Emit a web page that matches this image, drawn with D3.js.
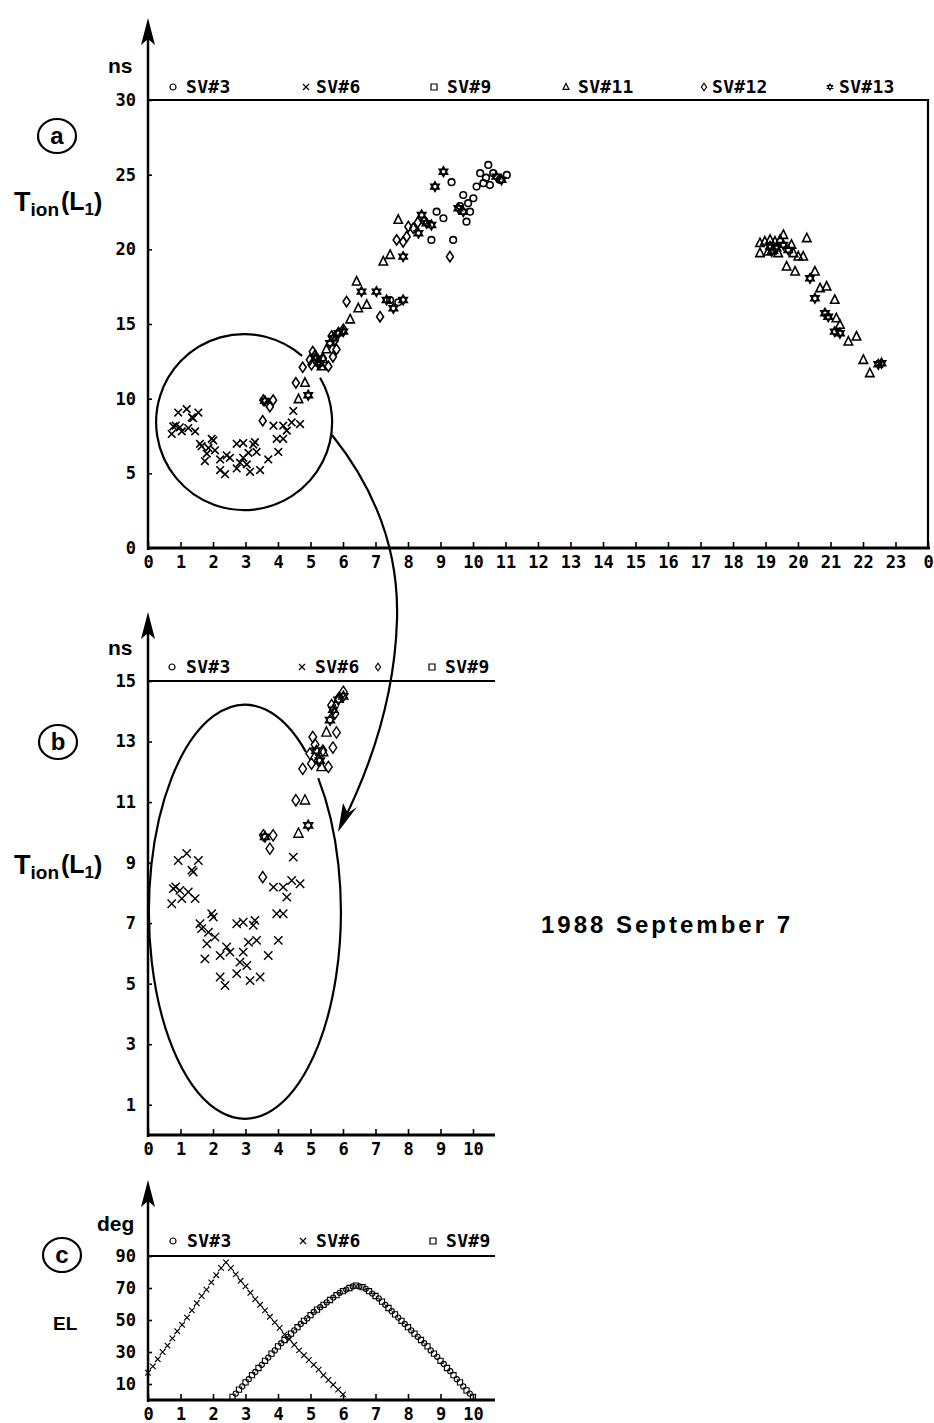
<!DOCTYPE html>
<html><head><meta charset="utf-8">
<script src="https://cdn.jsdelivr.net/npm/d3@7"></script>
<style>body{margin:0;background:#fff}svg{display:block}</style>
</head><body><script>
// ---------------- DATA ----------------
const legendA = ["SV#3","SV#6","SV#9","SV#11","SV#12","SV#13"];
const legendB = ["SV#3","SV#6","","SV#9"];
const legendC = ["SV#3","SV#6","SV#9"];
const xTicksA = [0,1,2,3,4,5,6,7,8,9,10,11,12,13,14,15,16,17,18,19,20,21,22,23,24];
const xLabelsA = ["0","1","2","3","4","5","6","7","8","9","10","11","12","13","14","15","16","17","18","19","20","21","22","23","0"];
const yTicksA = [0,5,10,15,20,25,30];
const xTicksBC = [0,1,2,3,4,5,6,7,8,9,10];
const yTicksB = [1,3,5,7,9,11,13,15];
const yTicksC = [10,30,50,70,90];

// T_ion(L1) in ns vs hour (UT), 1988 Sept 7
const sv3 = [[7.45,16.6],[7.7,16.45],[8.5,21.9],[8.72,20.63],[8.88,22.52],[9.09,22.08],[9.34,24.5],[9.39,20.63],[9.6,22.9],[9.7,23.64],[9.8,21.85],[9.85,23.09],[9.91,22.52],[10.01,23.42],[10.11,24.2],[10.22,25.1],[10.32,24.43],[10.4,24.8],[10.47,25.65],[10.52,24.3],[10.62,25.1],[10.83,24.65],[11.04,24.98]];
const sv6 = [[0.73,7.64],[0.78,8.14],[0.85,8.2],[0.98,8.08],[1.04,7.81],[1.24,8.03],[1.45,7.81],[0.93,9.07],[1.19,9.3],[1.55,9.07],[1.39,8.69],[1.35,8.75],
  [1.96,7.31],[2.01,7.2],[1.6,6.98],[1.65,6.82],[1.86,6.7],[2.06,6.54],[1.81,6.32],[1.75,5.82],
  [2.42,6.21],[2.52,6.04],[2.22,5.93],[2.93,6.04],[2.73,6.98],[2.93,7.03],[3.29,7.09],[3.24,6.93],
  [3.09,6.37],[3.34,6.43],[2.83,5.71],[3.04,5.6],[2.73,5.33],[2.22,5.22],[2.37,4.94],[3.14,5.1],[3.45,5.22],
  [3.7,5.93],[4.01,6.43],[3.96,7.31],[4.16,7.31],[4.27,7.86],[3.86,8.19],[4.16,8.19],[4.42,8.41],[4.68,8.3],[4.47,9.18]];
const sv9 = [];
const sv11 = [[4.63,9.96],[4.83,11.06],[5.34,12.16],[5.39,12.65],[5.49,13.3],[6.22,15.3],[6.42,17.84],[6.47,16.05],[6.73,16.28],[7.24,19.18],[7.45,19.62],[7.7,21.97],
  [18.83,20.41],[18.98,20.52],[19.14,20.63],[19.29,20.52],[19.45,20.63],[19.55,20.96],[18.83,19.74],[19.08,19.85],[19.24,19.96],[19.39,19.74],[19.8,20.3],[19.86,19.74],[20.01,19.51],[20.16,19.51],[20.27,20.74],
  [19.65,18.84],[19.91,18.51],[20.52,18.51],[20.68,17.39],[20.88,17.5],[21.13,16.61],[21.18,15.38],[21.29,14.94],[21.55,13.82],[21.8,14.15],[22.01,12.59],[22.21,11.7]];
const sv12 = [[3.53,8.52],[3.55,9.9],[3.75,9.46],[3.85,9.9],[4.55,11.06],[4.76,12.1],[4.98,12.6],[5.03,12.27],[5.07,13.15],[5.14,12.9],[5.24,12.38],[5.38,12.7],[5.55,12.16],[5.69,12.8],[5.65,14.2],[5.75,13.92],[5.8,13.3],[5.86,14.42],[6.01,14.64],
  [6.11,16.5],[7.14,15.49],[7.65,20.63],[7.85,20.5],[7.96,20.85],[8.01,21.52],[8.16,21.41],[8.3,21.8],[9.29,19.51]];
const sv13 = [[3.6,9.85],[4.93,10.23],[5.18,12.7],[5.29,12.37],[5.6,13.71],[5.7,14.05],[5.86,14.38],[6.01,14.49],[6.57,17.17],[7.03,17.17],[7.34,16.61],[7.55,16.05],[7.85,16.61],[7.85,19.51],
  [8.32,21.08],[8.42,22.3],[8.57,21.75],[8.72,21.63],[8.83,24.2],[9.09,25.2],[9.55,22.75],[9.7,22.52],[10.72,24.87],[10.88,24.65],
  [19.14,20.19],[19.34,20.07],[19.19,19.85],[19.55,20.3],[19.7,19.96],[20.37,18.06],[20.52,16.72],[20.83,15.72],[20.93,15.49],[21.13,14.49],[21.29,14.38],[22.47,12.3],[22.57,12.37]];

// Elevation (deg) vs hour
const el6 = [[0,17],[0.15,21],[0.3,25.5],[0.45,30],[0.6,34],[0.75,38.5],[0.9,43],[1.05,47],[1.2,51.5],[1.35,56],[1.5,60.5],[1.65,65],[1.8,69],[1.95,73.5],[2.1,78],[2.25,82.5],[2.4,86],
  [2.55,82.5],[2.7,78.5],[2.85,74.5],[3.0,71],[3.15,67],[3.3,63],[3.45,59.5],[3.6,56],[3.75,52],[3.9,48.5],[4.05,45],[4.2,41],[4.35,38],[4.5,34.5],[4.65,31],[4.8,28],[4.95,25],[5.1,22],[5.25,19],[5.4,15.5],[5.55,12.5],[5.7,9.5],[5.85,6.5],[6.0,3.5]];
const el9 = [[2.6,2],[2.8,6.5],[3.0,11],[3.2,15.5],[3.4,20],[3.6,24.5],[3.8,29],[4.0,33.5],[4.2,37.5],[4.4,41.5],[4.6,45.5],[4.8,49.5],[5.0,53],[5.2,56.5],[5.4,59.5],[5.6,62.5],[5.8,65.5],[6.0,68],[6.2,70],[6.4,71.5],
  [6.6,70.5],[6.8,68],[7.0,65],[7.2,61.5],[7.4,57.5],[7.6,53.5],[7.8,49.5],[8.0,45.5],[8.2,41.5],[8.4,37.5],[8.6,33.5],[8.8,29],[9.0,24.5],[9.2,20],[9.4,15.5],[9.6,11],[9.8,6],[10.0,2]];
const el3 = [[2.7,4],[2.9,8.5],[3.1,13],[3.3,17.5],[3.5,22],[3.7,26.5],[3.9,31],[4.1,35.5],[4.3,39.5],[4.5,43.5],[4.7,47.5],[4.9,51],[5.1,55],[5.3,58],[5.5,61],[5.7,64],[5.9,67],[6.1,69],[6.3,71],
  [6.5,71],[6.7,69.5],[6.9,66.5],[7.1,63.5],[7.3,59.5],[7.5,55.5],[7.7,51.5],[7.9,47.5],[8.1,43.5],[8.3,39.5],[8.5,35.5],[8.7,31],[8.9,27],[9.1,22.5],[9.3,18],[9.5,13],[9.7,8.5],[9.9,4]];

// ---------------- DRAWING ----------------
const W = 934, H = 1423;
const MONO = "'DejaVu Sans Mono', monospace";
const SANS = "'Liberation Sans', Arial, sans-serif";
const svg = d3.select("body").append("svg").attr("width", W).attr("height", H);

const shapes = {
  circle: s => `M${s},0A${s},${s} 0 1,1 ${-s},0A${s},${s} 0 1,1 ${s},0Z`,
  cross: s => `M${-s},${-s}L${s},${s}M${-s},${s}L${s},${-s}`,
  square: s => `M${-s},${-s}H${s}V${s}H${-s}Z`,
  triangle: s => `M0,${-s*1.2}L${s},${s*0.8}L${-s},${s*0.8}Z`,
  diamond: s => `M0,${-s*1.25}L${s*0.85},0L0,${s*1.25}L${-s*0.85},0Z`,
  star: s => { const a = s*0.866; return `M0,${-s}L${a},${s/2}L${-a},${s/2}ZM0,${s}L${a},${-s/2}L${-a},${-s/2}Z`; }
};
const sizes = {circle:3.3, cross:3.8, square:3, triangle:4.2, diamond:4.1, star:4.8};

const seriesAB = [
  {data: sv3, shape: "circle"},
  {data: sv6, shape: "cross"},
  {data: sv9, shape: "square"},
  {data: sv11, shape: "triangle"},
  {data: sv12, shape: "diamond"},
  {data: sv13, shape: "star"}
];

function drawMarkers(g, data, shape, x, y, size, sw) {
  g.selectAll(null).data(data).enter().append("path")
    .attr("transform", d => `translate(${x(d[0])},${y(d[1])})`)
    .attr("d", shapes[shape](size))
    .attr("fill", "none").attr("stroke", "#000").attr("stroke-width", sw);
}

function yArrow(x0, yBottom, tip) {
  svg.append("line").attr("x1", x0).attr("x2", x0).attr("y1", yBottom + 2).attr("y2", tip + 10)
    .attr("stroke", "#000").attr("stroke-width", 2.5);
  svg.append("path").attr("d", `M${x0},${tip}L${x0+7},${tip+27}L${x0},${tip+21}L${x0-7},${tip+27}Z`).attr("fill", "#000");
}

function xAxis(x, yPos, ticks, fmt, xEnd) {
  const g = svg.append("g").attr("transform", `translate(0,${yPos})`)
    .call(d3.axisBottom(x).tickValues(ticks).tickSize(-6).tickPadding(8).tickFormat(fmt));
  g.select(".domain").remove();
  g.selectAll(".tick line").attr("stroke", "#000").attr("stroke-width", 1.6);
  g.selectAll("text").attr("font-family", MONO).attr("font-weight", "bold").attr("font-size", 17).attr("fill", "#000");
  svg.append("line").attr("x1", x.range()[0] - 1).attr("x2", xEnd).attr("y1", yPos).attr("y2", yPos)
    .attr("stroke", "#000").attr("stroke-width", 3);
}

function yAxis(y, xPos, ticks) {
  const g = svg.append("g").attr("transform", `translate(${xPos},0)`)
    .call(d3.axisLeft(y).tickValues(ticks).tickSize(-4).tickPadding(12));
  g.select(".domain").remove();
  g.selectAll(".tick line").attr("stroke", "#000").attr("stroke-width", 1.6);
  g.selectAll("text").attr("font-family", MONO).attr("font-weight", "bold").attr("font-size", 17).attr("fill", "#000");
}

function legend(items, shapesL, markX, textX, yBase) {
  items.forEach((t, i) => {
    if (shapesL[i]) svg.append("path").attr("transform", `translate(${markX[i]},${yBase-6})`)
      .attr("d", shapes[shapesL[i]](3)).attr("fill","none").attr("stroke","#000").attr("stroke-width",1.2);
    if (t) svg.append("text").attr("x", textX[i]).attr("y", yBase).text(t)
      .attr("font-family", MONO).attr("font-weight", "bold").attr("font-size", 18).attr("letter-spacing", 0.3);
  });
}

function circLabel(cx, cy, ch) {
  svg.append("ellipse").attr("cx", cx).attr("cy", cy).attr("rx", 19).attr("ry", 17)
    .attr("fill", "none").attr("stroke", "#000").attr("stroke-width", 2.2);
  svg.append("text").attr("x", cx).attr("y", cy + 8).attr("text-anchor", "middle").text(ch)
    .attr("font-family", SANS).attr("font-weight", "bold").attr("font-size", 24);
}

function tionLabel(x0, yb) {
  const t = svg.append("text").attr("x", x0).attr("y", yb).attr("font-family", SANS).attr("font-weight", "bold");
  t.append("tspan").attr("font-size", 27).text("T");
  t.append("tspan").attr("font-size", 19).attr("dy", 5).text("ion");
  t.append("tspan").attr("font-size", 25).attr("dy", -6).attr("dx", 2).text("(L");
  t.append("tspan").attr("font-size", 17).attr("dy", 5).text("1");
  t.append("tspan").attr("font-size", 25).attr("dy", -4).text(")");
}

function unitLabel(x0, yb, txt, fs) {
  svg.append("text").attr("x", x0).attr("y", yb).text(txt)
    .attr("font-family", SANS).attr("font-weight", "bold").attr("font-size", fs);
}

// ---------- Panel a ----------
const xA = d3.scaleLinear().domain([0, 24]).range([148, 928]);
const yA = d3.scaleLinear().domain([0, 30]).range([548, 100]);
svg.append("path").attr("d", `M${xA(0)},${yA(30)}H${xA(24)}V${yA(0)}`).attr("fill","none").attr("stroke","#000").attr("stroke-width",2.2);
yArrow(148, 548, 18);
xAxis(xA, 548, xTicksA, (d, i) => xLabelsA[i], 930);
yAxis(yA, 148, yTicksA);
const gA = svg.append("g");
seriesAB.forEach(s => drawMarkers(gA, s.data, s.shape, xA, yA, sizes[s.shape], 1.6));
legend(legendA, ["circle","cross","square","triangle","diamond","star"], [173,306,434,566,704,830], [186,316,447,578,712,839], 93);
unitLabel(108, 73, "ns", 21);
circLabel(57, 136, "a");
tionLabel(14, 211);

// ---------- Panel b ----------
const xB = d3.scaleLinear().domain([0, 10]).range([148, 473]);
const yB = d3.scaleLinear().domain([0, 15]).range([1135, 681]);
svg.append("line").attr("x1", 148).attr("x2", 495).attr("y1", yB(15)).attr("y2", yB(15)).attr("stroke","#000").attr("stroke-width",2);
yArrow(148, 1135, 612);
xAxis(xB, 1135, xTicksBC, d => d, 495);
yAxis(yB, 148, yTicksB);
const gB = svg.append("g");
seriesAB.forEach(s => drawMarkers(gB, s.data.filter(d => d[0] <= 6.1 && d[1] <= 15), s.shape, xB, yB, sizes[s.shape]*1.1, 1.4));
legend(legendB, ["circle","cross","diamond","square"], [172,302,378,432], [186,315,0,445], 673);
unitLabel(108, 655, "ns", 21);
circLabel(58, 742, "b");
tionLabel(14, 874);

// ---------- Panel c ----------
const xC = d3.scaleLinear().domain([0, 10]).range([148, 473]);
const yC = d3.scaleLinear().domain([0, 90]).range([1400, 1256]);
svg.append("line").attr("x1", 148).attr("x2", 495).attr("y1", yC(90)).attr("y2", yC(90)).attr("stroke","#000").attr("stroke-width",2);
yArrow(148, 1400, 1180);
xAxis(xC, 1400, xTicksBC, d => d, 495);
yAxis(yC, 148, yTicksC);
const gC = svg.append("g");
gC.append("path").datum(el6).attr("d", d3.line().x(d => xC(d[0])).y(d => yC(d[1])))
  .attr("fill","none").attr("stroke","#000").attr("stroke-width",1).attr("stroke-dasharray","1,2.5");
drawMarkers(gC, el6, "cross", xC, yC, 2.8, 1.1);
drawMarkers(gC, el9, "square", xC, yC, 2.6, 1.1);
drawMarkers(gC, el3, "circle", xC, yC, 2.6, 1.1);
legend(legendC, ["circle","cross","square"], [173,303,433], [187,316,446], 1247);
unitLabel(97, 1231, "deg", 21);
unitLabel(53, 1330, "EL", 19);
circLabel(62, 1255, "c");

// ---------- Annotations ----------
const ann = svg.append("g").attr("fill","none").attr("stroke","#000").attr("stroke-width",2.2);
ann.append("path").attr("d", "M320.1,377.7A88,88 0 1,1 302.1,355.9");
ann.append("path").attr("d", "M318.2,778.1A96,207 0 1,1 306,752.1");
ann.append("path").attr("d", "M332,435Q400,520 397,620Q394,720 342,824");
svg.append("path").attr("d", "M338,832L343,803L348,813L357,807Z").attr("fill","#000");

svg.append("text").attr("x", 541).attr("y", 933).text("1988 September 7")
  .attr("font-family", SANS).attr("font-weight", "bold").attr("font-size", 24)
  .attr("textLength", 249).attr("lengthAdjust", "spacing");
</script></body></html>
